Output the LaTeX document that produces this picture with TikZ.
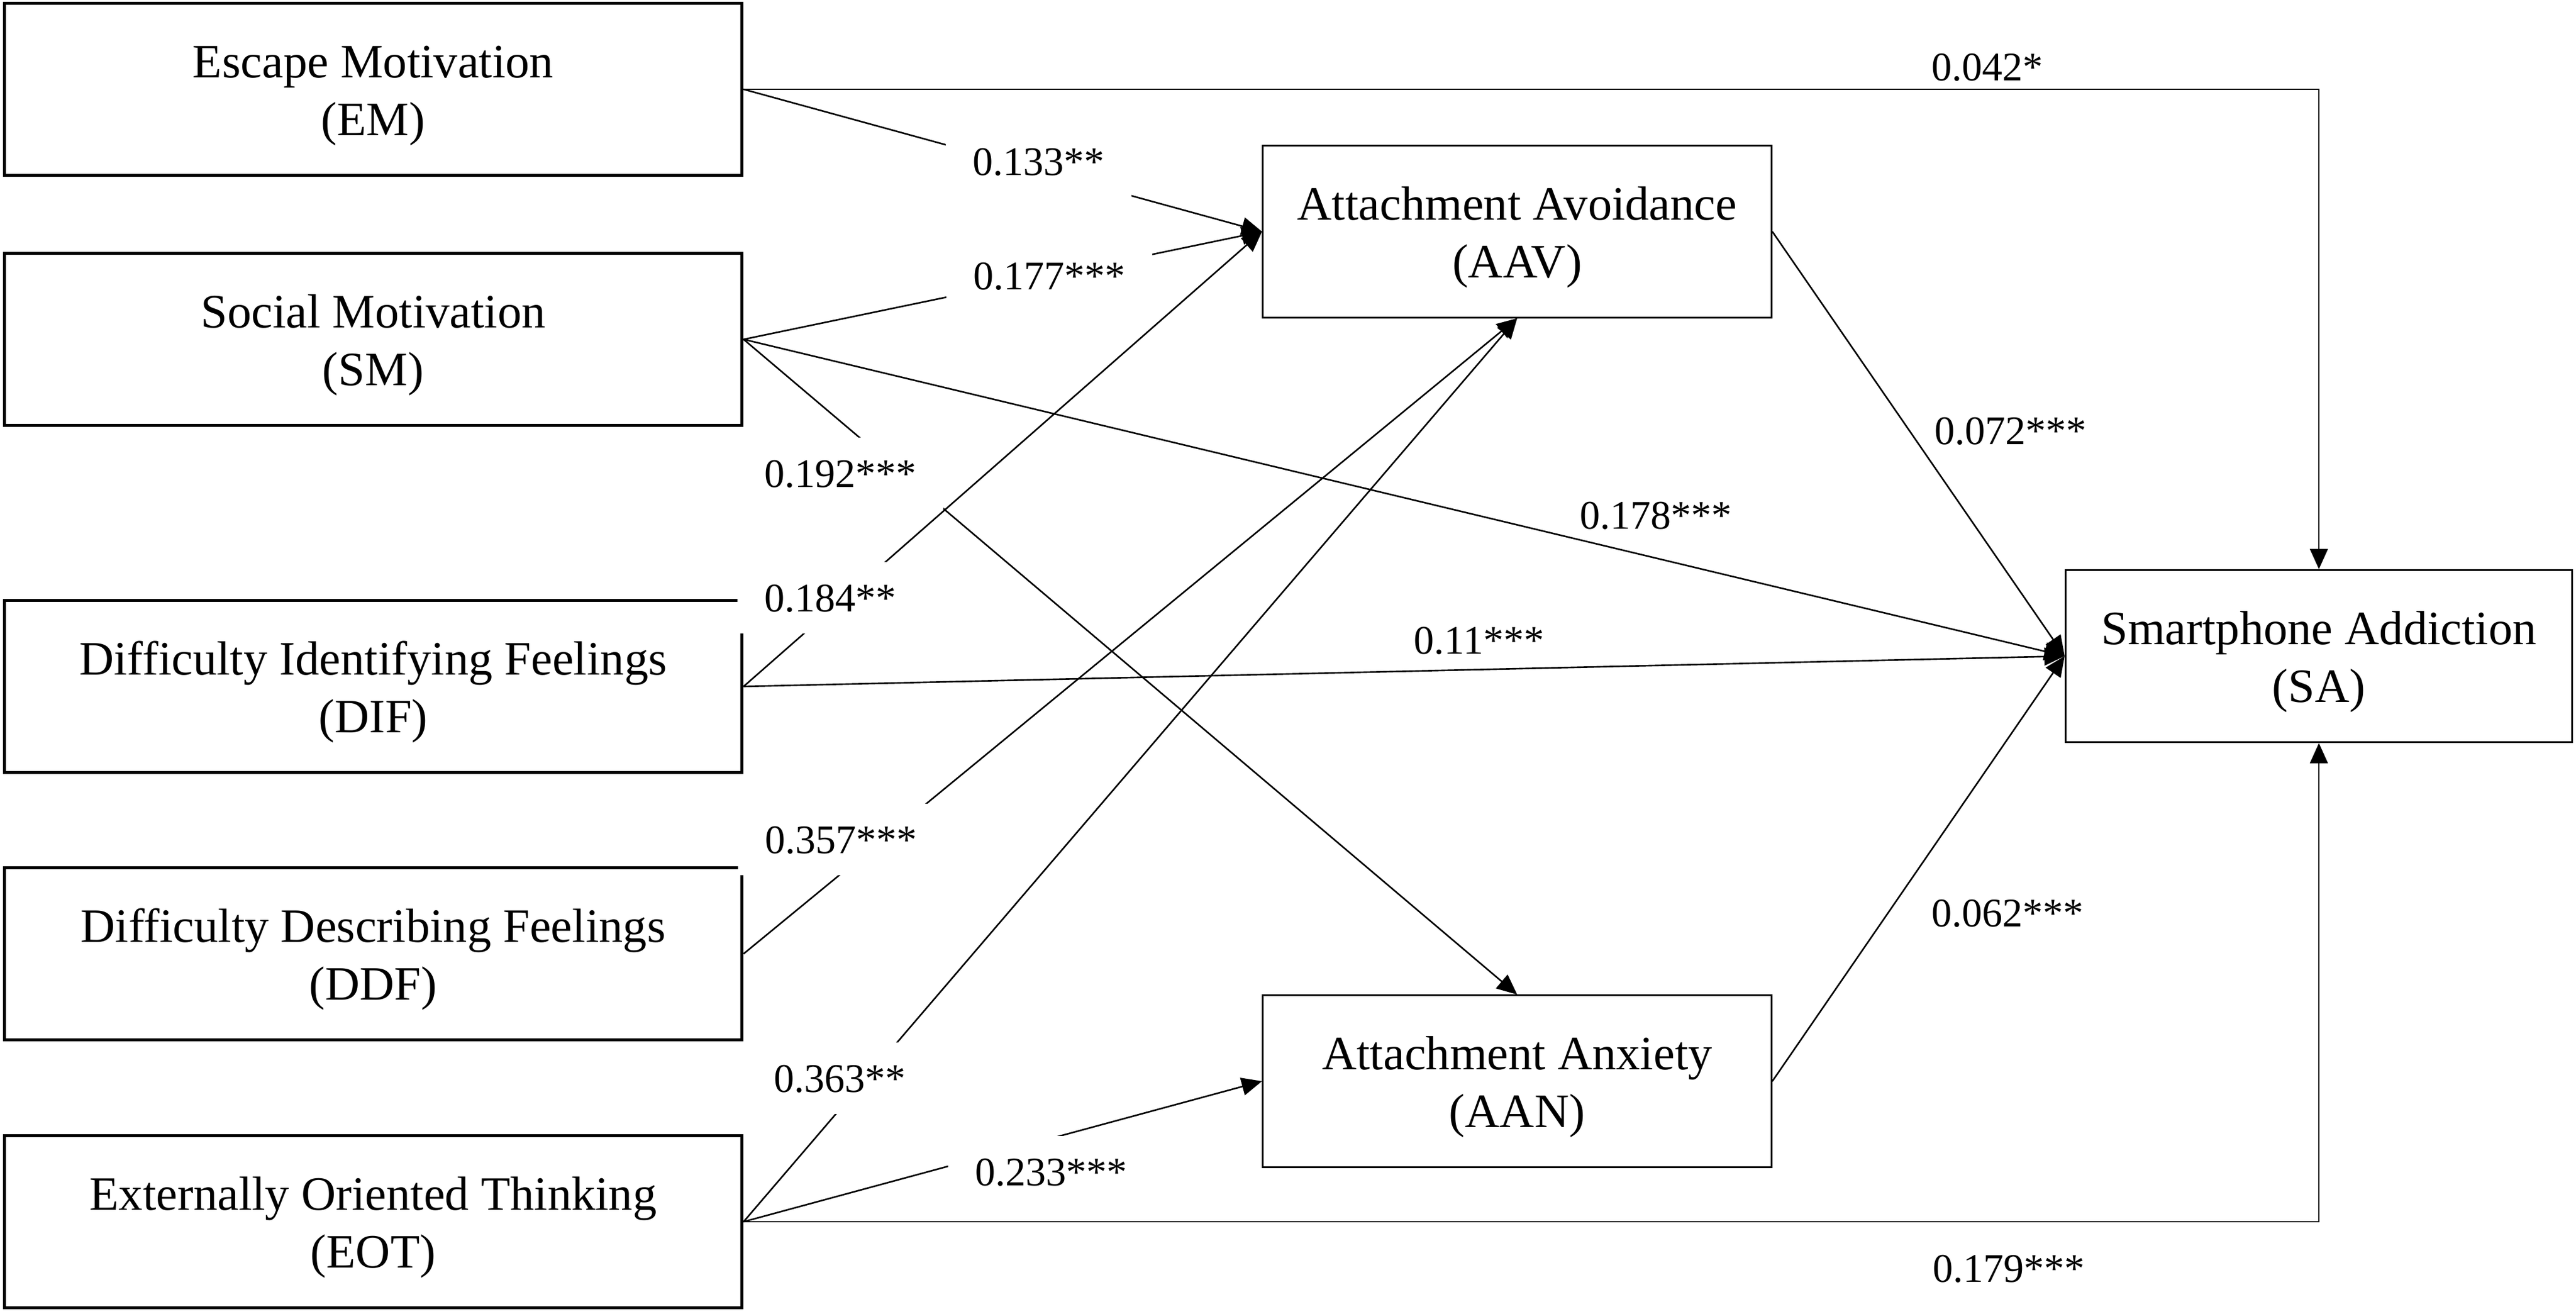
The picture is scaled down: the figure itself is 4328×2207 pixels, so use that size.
\documentclass[tikz,border=0pt]{standalone}
\usepackage{fontspec}
\setmainfont{Liberation Serif}[Ligatures=CommonOff]
\usetikzlibrary{arrows.meta}
\newcommand{\bxs}{\rule{0pt}{0.75cm}}
\begin{document}
\begin{tikzpicture}[x=0.01cm,y=-0.01cm,
  boxfont/.style={font=\fontsize{22.9}{27.6}\selectfont},
  lbox/.style={draw, line width=1.4pt, minimum width=12.39cm, minimum height=2.88cm, inner sep=0pt, align=center, boxfont},
  rbox/.style={draw, line width=0.85pt, minimum width=8.54cm, minimum height=2.88cm, inner sep=0pt, align=center, boxfont},
  conn/.style={line width=0.75pt, -{Triangle[length=0.34cm,width=0.3cm]}},
  labfont/.style={font=\fontsize{19.4}{23}\selectfont},
  lab/.style={labfont, fill=white, inner xsep=0.45cm, inner ysep=0.37cm, text height=0.46cm, text depth=0pt},
  plab/.style={labfont, inner sep=0pt, text height=0.46cm, text depth=0pt}]
\useasboundingbox (0,0) rectangle (4328,2207);
\fill[white] (0,0) rectangle (4328,2207);

% boxes
\node[lbox] (em)  at (627,150)  {\bxs Escape Motivation\\(EM)};
\node[lbox] (sm)  at (627,570)  {\bxs Social Motivation\\(SM)};
\node[lbox] (dif) at (627,1153) {\bxs Difficulty Identifying Feelings\\(DIF)};
\node[lbox] (ddf) at (627,1602) {\bxs Difficulty Describing Feelings\\(DDF)};
\node[lbox] (eot) at (627,2052) {\bxs Externally Oriented Thinking\\(EOT)};
\node[rbox] (aav) at (2549,389)  {\bxs Attachment Avoidance\\(AAV)};
\node[rbox] (aan) at (2549,1816) {\bxs Attachment Anxiety\\(AAN)};
\node[rbox, minimum width=8.51cm, minimum height=2.89cm] (sa) at (3896,1102) {\bxs Smartphone Addiction\\(SA)};

% connectors
\draw[conn] (em.east) -- (aav.west);
\draw[conn] (sm.east) -- (aav.west);
\draw[conn] (dif.east) -- (aav.west);
\draw[conn] (ddf.east) -- (aav.south);
\draw[conn] (eot.east) -- (aav.south);
\draw[conn] (sm.east) -- (aan.north);
\draw[conn] (eot.east) -- (aan.west);
\draw[conn] (aav.east) -- (sa.west);
\draw[conn] (sm.east) -- (sa.west);
\draw[conn] (dif.east) -- (sa.west);
\draw[conn] (aan.east) -- (sa.west);
\draw[conn] (em.east) -- (em.east -| sa.north) -- (sa.north);
\draw[conn] (eot.east) -- (eot.east -| sa.south) -- (sa.south);

% labels with white background (interrupt lines)
\node[lab] (l133) at (1745,271)  {0.133**};
\node[lab] (l177) at (1763,463)  {0.177***};
\node[lab] (l192) at (1412,795)  {0.192***};
\node[lab] (l184) at (1395,1004) {0.184**};
\node[lab] (l357) at (1413,1410) {0.357***};
\node[lab] (l363) at (1411,1811) {0.363**};
\node[lab] (l233) at (1766,1968) {0.233***};

% plain labels
\node[plab] (l042) at (3339,112)  {0.042*};
\node[plab] (l072) at (3378,723)  {0.072***};
\node[plab] (l178) at (2782,865)  {0.178***};
\node[plab] (l011) at (2485,1075) {0.11***};
\node[plab] (l062) at (3373,1533) {0.062***};
\node[plab] (l179) at (3375,2130) {0.179***};
\end{tikzpicture}
\end{document}
